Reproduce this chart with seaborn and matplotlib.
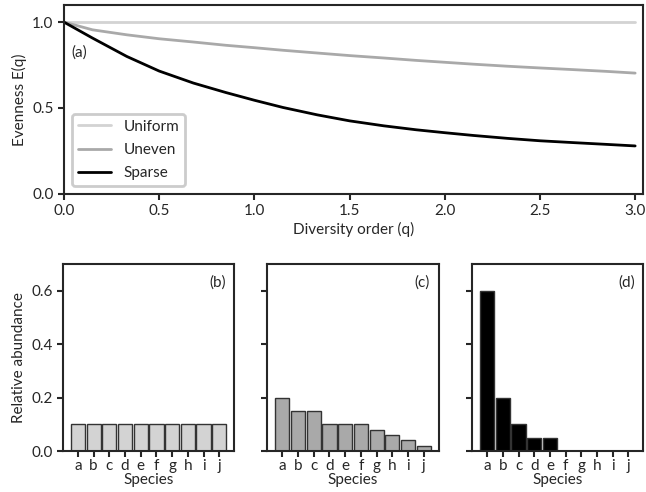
import matplotlib
matplotlib.use("Agg")
import matplotlib.pyplot as plt
import seaborn as sns
import pandas as pd

# Evenness profiles
q_vals = [0.0, 0.15, 0.33, 0.5, 0.68, 0.85, 1.0, 1.15, 1.33, 1.5,
          1.68, 1.85, 2.0, 2.15, 2.33, 2.5, 2.68, 2.85, 3.0]
even_uniform = [1.0] * len(q_vals)
even_uneven = [1.0, 0.955, 0.926, 0.903, 0.884, 0.865, 0.851, 0.836, 0.82, 0.805,
               0.791, 0.777, 0.766, 0.755, 0.743, 0.733, 0.723, 0.713, 0.703]
even_sparse = [1.0, 0.907, 0.80, 0.715, 0.645, 0.59, 0.545, 0.503, 0.46, 0.425,
               0.396, 0.373, 0.356, 0.34, 0.323, 0.309, 0.298, 0.288, 0.279]

# Relative abundances
species = list("abcdefghij")
ab_uniform = [0.1] * 10
ab_uneven = [0.2, 0.15, 0.15, 0.1, 0.1, 0.1, 0.08, 0.06, 0.04, 0.02]
ab_sparse = [0.6, 0.2, 0.1, 0.05, 0.05, 0, 0, 0, 0, 0]

c_uniform = "#d3d3d3"
c_uneven = "#a9a9a9"
c_sparse = "#000000"

sns.set_style("ticks")
plt.rcParams["font.family"] = ["Lato", "DejaVu Sans"]
plt.rcParams["font.size"] = 11
plt.rcParams["axes.labelsize"] = 11
plt.rcParams["xtick.labelsize"] = 11
plt.rcParams["ytick.labelsize"] = 11
plt.rcParams["axes.linewidth"] = 1.5
plt.rcParams["xtick.major.width"] = 1.5
plt.rcParams["ytick.major.width"] = 1.5
plt.rcParams["xtick.major.size"] = 4
plt.rcParams["ytick.major.size"] = 4

fig = plt.figure(figsize=(6.46, 4.92), dpi=100)

# Top panel
ax = fig.add_axes([0.099, 0.606, 0.896, 0.384])
curves = pd.DataFrame({
    "q": q_vals * 3,
    "E": even_uniform + even_uneven + even_sparse,
    "profile": ["Uniform"] * len(q_vals) + ["Uneven"] * len(q_vals) + ["Sparse"] * len(q_vals),
})
sns.lineplot(data=curves, x="q", y="E", hue="profile",
             palette=[c_uniform, c_uneven, c_sparse], linewidth=2, ax=ax)
ax.set_xlim(0, 3.04)
ax.set_ylim(0, 1.1)
ax.set_xticks([0, 0.5, 1.0, 1.5, 2.0, 2.5, 3.0])
ax.set_yticks([0, 0.5, 1.0])
ax.set_xlabel("Diversity order (q)", labelpad=3)
ax.set_ylabel("Evenness E(q)")
ax.text(0.013, 0.75, "(a)", transform=ax.transAxes, va="center", ha="left")
leg = ax.legend(loc="lower left", frameon=True, framealpha=1, fontsize=11,
                labelspacing=0.6, handlelength=2.2)
leg.get_frame().set_edgecolor("#cccccc")
leg.get_frame().set_linewidth(2)

# Bottom panels
lefts = [0.0975, 0.414, 0.731]
panels = [(ab_uniform, c_uniform, "(b)"), (ab_uneven, c_uneven, "(c)"), (ab_sparse, c_sparse, "(d)")]
for i, (vals, col, lab) in enumerate(panels):
    bax = fig.add_axes([lefts[i], 0.083, 0.265, 0.380])
    sns.barplot(x=species, y=vals, color=col, saturation=1, width=0.9,
                edgecolor="#333333", linewidth=1, ax=bax)
    bax.set_xlim(-0.95, 9.95)
    bax.set_ylim(0, 0.7)
    bax.set_yticks([0, 0.2, 0.4, 0.6])
    bax.tick_params(axis="x", pad=1.5)
    bax.set_xlabel("Species", labelpad=0)
    if i == 0:
        bax.set_ylabel("Relative abundance")
    else:
        bax.set_yticklabels([])
    bax.text(0.95, 0.9, lab, transform=bax.transAxes, ha="right", va="center")

fig.savefig("out.png", dpi=100)
